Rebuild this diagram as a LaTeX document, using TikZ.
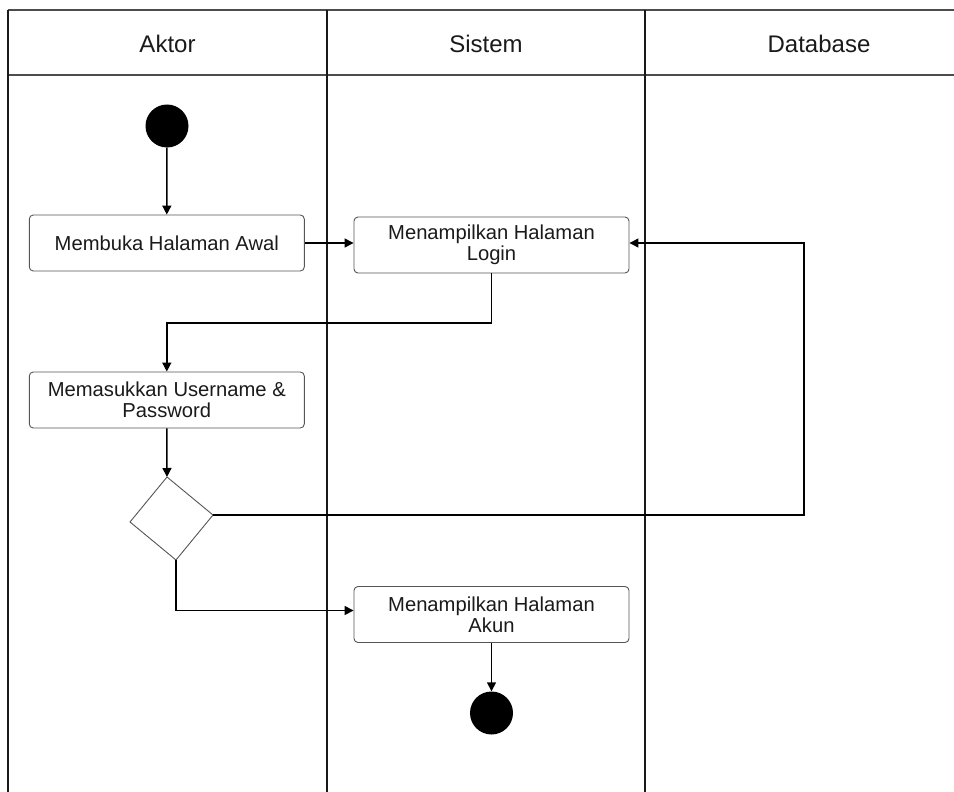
\documentclass[tikz,border=0pt]{standalone}
\usepackage{fontspec}
\setmainfont{Liberation Sans}
\usetikzlibrary{arrows.meta}
\definecolor{txt}{HTML}{1A1A1A}
\definecolor{boxline}{HTML}{555555}
\begin{document}
\begin{tikzpicture}[x=1pt,y=-1pt,
  lane/.style={draw=black!90,line width=1.4pt},
  hline/.style={draw=black!70,line width=1.3pt},
  actbox/.style={draw=boxline,line width=0.9pt,rounded corners=4pt,minimum width=275pt,minimum height=56pt,inner sep=0pt,align=center,font=\fontsize{20.2}{23.3}\selectfont,text=txt},
  hdr/.style={font=\fontsize{24}{28}\selectfont,text=txt},
  dot/.style={circle,fill=black,minimum size=43pt,inner sep=0pt},
  flow/.style={draw=black,line width=1.5pt,-{Triangle[length=9pt,width=9pt]}},
  plain/.style={draw=black,line width=1.5pt}]
\useasboundingbox (0,0) rectangle (954,792);
% frame
\draw[hline] (8,10) -- (954,10);
\draw[hline] (8,75) -- (954,75);
\draw[lane] (8,10) -- (8,792);
\draw[lane] (327,10) -- (327,792);
\draw[lane] (645,10) -- (645,792);
% headers
\node[hdr] (h1) at (167.5,44) {Aktor};
\node[hdr] (h2) at (486,44) {Sistem};
\node[hdr] (h3) at (819,44) {Database};
% nodes
\node[dot] (start) at (167,126) {};
\node[actbox] (membuka) at (166.8,243) {Membuka Halaman Awal};
\node[actbox] (login) at (491.5,245) {Menampilkan Halaman\\[-2pt]Login};
\node[actbox] (masuk) at (166.8,400) {Memasukkan Username \&\\[-2pt]Password};
\node[actbox] (akun) at (491.5,614.5) {Menampilkan Halaman\\[-2pt]Akun};
\node[dot] (end) at (491.5,713) {};
% decision diamond
\coordinate (dtop) at (167,477);
\coordinate (dright) at (213,515);
\coordinate (dbottom) at (176,560);
\coordinate (dleft) at (130,522);
\draw[draw=boxline,line width=0.9pt,fill=white] (dtop) -- (dright) -- (dbottom) -- (dleft) -- cycle;
\coordinate (loopc) at (804,515);
\coordinate (turn1) at (491.5,323);
% connectors
\draw[flow] (start) -- (membuka.north);
\draw[flow] (membuka.east) -- (membuka.east -| login.west);
\draw[flow] (login.south) -- (turn1) -| (masuk.north);
\draw[flow] (masuk.south) -- (dtop);
\draw[flow] (dright) -- (loopc) |- ([yshift=2pt]login.east);
\draw[flow] (dbottom) |- ([yshift=4pt]akun.west);
\draw[flow] (akun.south) -- (end.north);
\end{tikzpicture}
\end{document}
